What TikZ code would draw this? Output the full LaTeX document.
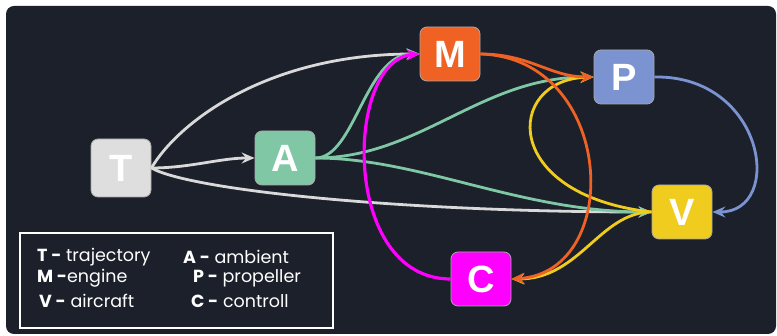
\documentclass[tikz,border=0pt]{standalone}
\usepackage{fontspec}
\setmainfont{Poppins}
\newfontfamily\nodefont{Liberation Sans}
\usetikzlibrary{arrows.meta}
\definecolor{bg}{HTML}{1B202B}
\definecolor{cT}{HTML}{DEDEDE}
\definecolor{cA}{HTML}{80C8A5}
\definecolor{cM}{HTML}{F06124}
\definecolor{cP}{HTML}{7B93D0}
\definecolor{cV}{HTML}{EFCC1D}
\definecolor{cC}{HTML}{FE00FE}
\definecolor{eT}{HTML}{D9D9D9}
\definecolor{nb}{HTML}{A8A8A8}
\tikzset{
  box/.style={draw=nb, line width=0.8pt, rounded corners=7pt, minimum width=60pt,
    minimum height=54pt, inner sep=0pt, text=white,
    font=\nodefont\bfseries\fontsize{38}{38}\selectfont},
  conn/.style={line width=2.8pt, -{Stealth[length=13pt,width=11pt,inset=4.5pt]}},
  legtext/.style={anchor=west, text=white, inner sep=0pt, font=\fontsize{17.5}{19}\selectfont}
}
\begin{document}
\begin{tikzpicture}[x=1pt,y=-1pt]
\useasboundingbox (0,0) rectangle (777,336);
\fill[bg, rounded corners=8pt] (6,6) rectangle (776,334);

\node[box, fill=cT, minimum height=58pt] (T) at (121,168) {T};
\node[box, fill=cA] (A) at (285,158) {A};
\node[box, fill=cM] (M) at (450,54) {M};
\node[box, fill=cP] (P) at (624,77) {P};
\node[box, fill=cV] (V) at (682,212) {V};
\node[box, fill=cC] (C) at (481,279) {C};

% gray
\draw[conn, eT] (T.east) .. controls (180,120) and (270,54) .. (M.west);
\draw[conn, eT] (T.east) .. controls (190,168) and (220,158) .. (A.west);
\draw[conn, eT] (T.east) .. controls (190,190) and (400,212) .. (V.west);
% green
\draw[conn, cA] (A.east) .. controls (355,158) and (365,54) .. (M.west);
\draw[conn, cA] (A.east) .. controls (420,158) and (480,77) .. (P.west);
\draw[conn, cA] (A.east) .. controls (420,158) and (520,212) .. (V.west);
% blue
\draw[conn, cP] (P.east) .. controls (765,75) and (785,212) .. (V.east);
% yellow
\draw[conn, cV] (V.west) .. controls (500,195) and (505,80) .. (P.west);
\draw[conn, cV] (V.west) .. controls (600,212) and (580,279) .. (C.east);
% orange
\draw[conn, cM] (M.east) .. controls (530,54) and (550,77) .. (P.west);
\draw[conn, cM] (M.east) .. controls (615,58) and (625,272) .. (C.east);
% magenta
\draw[conn, cC, line width=3.2pt] (C.west) .. controls (340,279) and (345,60) .. (M.west);

% legend
\draw[white, line width=2pt] (20,233) rectangle (333,328);
\node[legtext] (l1) at (37,257) {\textbf{T -} trajectory};
\node[legtext] (l2) at (37,278) {\textbf{M -}engine};
\node[legtext] (l3) at (39,301) {\textbf{V -} aircraft};
\node[legtext] (l4) at (183,257) {\textbf{A -} ambient};
\node[legtext] (l5) at (193,278) {\textbf{P -} propeller};
\node[legtext] (l6) at (191,301) {\textbf{C -} controll};
\end{tikzpicture}
\end{document}
